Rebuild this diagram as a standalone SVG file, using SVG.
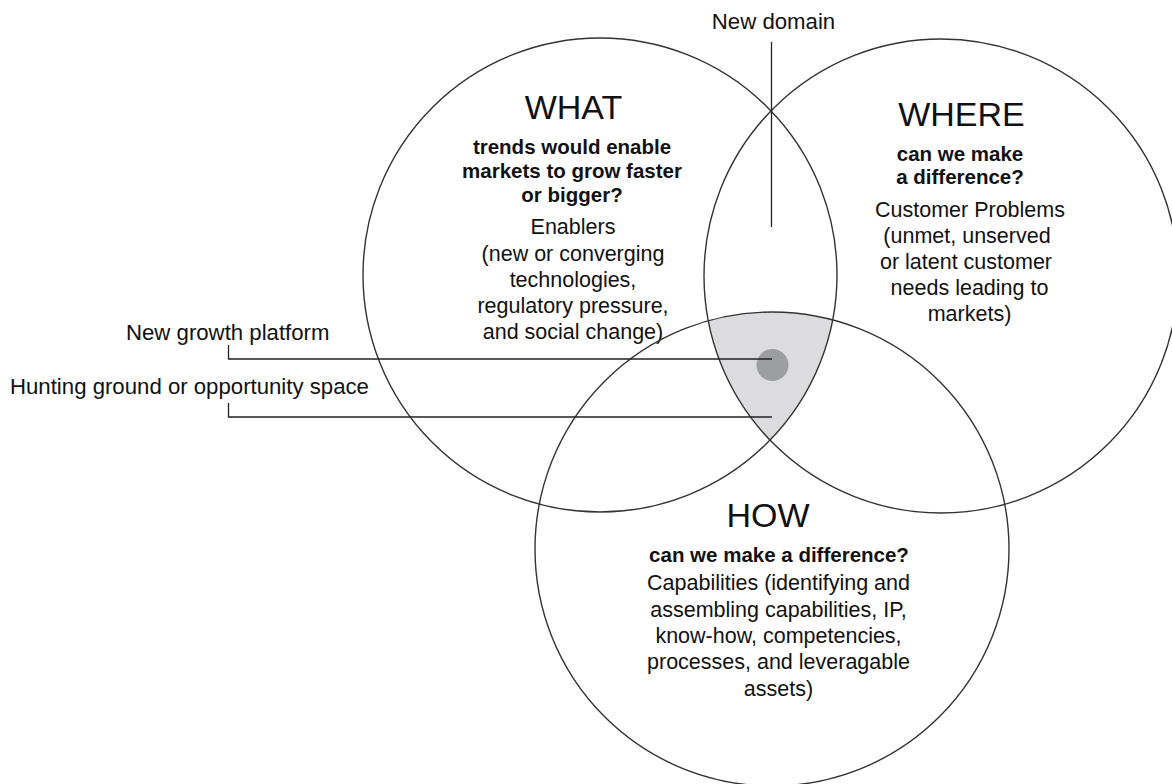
<svg xmlns="http://www.w3.org/2000/svg" width="1172" height="784" viewBox="0 0 1172 784">
<style>
.circle{fill:none;stroke:#333;stroke-width:1.4}
.title{font-family:"Liberation Sans",Arial,sans-serif;font-size:34px;fill:#111;text-anchor:middle}
.bold{font-family:"Liberation Sans",Arial,sans-serif;font-size:20.5px;font-weight:bold;fill:#111;text-anchor:middle}
.body{font-family:"Liberation Sans",Arial,sans-serif;font-size:21.5px;fill:#111;text-anchor:middle}
.label{font-family:"Liberation Sans",Arial,sans-serif;font-size:22.2px;fill:#111}
.conn{fill:none;stroke:#222;stroke-width:1.3}
</style>
<rect width="1172" height="784" fill="#fff"/>
<g id="core">
<path d="M708.3,320.8 A237,237 0 0 1 832.7,319.9 A237,237 0 0 1 770,440.1 A237,237 0 0 1 708.3,320.8 Z" fill="#dcdcde"/>
<circle cx="772.5" cy="365" r="16" fill="#9d9ea0"/>
</g>
<g id="what">
<circle class="circle" cx="600" cy="275" r="237"/>
<text class="title" x="573.5" y="119">WHAT</text>
<text class="bold" x="572" y="154">trends would enable</text>
<text class="bold" x="572" y="178">markets to grow faster</text>
<text class="bold" x="572" y="201.5">or bigger?</text>
<text class="body" x="573" y="234">Enablers</text>
<text class="body" x="573" y="260.5">(new or converging</text>
<text class="body" x="573" y="287">technologies,</text>
<text class="body" x="573" y="313">regulatory pressure,</text>
<text class="body" x="573" y="339">and social change)</text>
</g>
<g id="where">
<circle class="circle" cx="941" cy="276" r="237"/>
<text class="title" x="961.5" y="126">WHERE</text>
<text class="bold" x="960" y="160.5">can we make</text>
<text class="bold" x="960" y="183.5">a difference?</text>
<text class="body" x="970" y="216.5">Customer Problems</text>
<text class="body" x="967" y="243">(unmet, unserved</text>
<text class="body" x="966" y="269">or latent customer</text>
<text class="body" x="969.5" y="295">needs leading to</text>
<text class="body" x="969.5" y="320.5">markets)</text>
</g>
<g id="how">
<circle class="circle" cx="772" cy="549" r="237"/>
<text class="title" x="768" y="527">HOW</text>
<text class="bold" x="779" y="562">can we make a difference?</text>
<text class="body" x="778.5" y="590">Capabilities (identifying and</text>
<text class="body" x="778.5" y="616.5">assembling capabilities, IP,</text>
<text class="body" x="778.5" y="642.5">know-how, competencies,</text>
<text class="body" x="778.5" y="669">processes, and leveragable</text>
<text class="body" x="778.5" y="695.5">assets)</text>
</g>
<g id="labels">
<text class="label" x="773.5" y="28.5" text-anchor="middle">New domain</text>
<text class="label" x="126" y="339.5">New growth platform</text>
<text class="label" x="10" y="393.5">Hunting ground or opportunity space</text>
</g>
<g id="connectors">
<path class="conn" d="M771.5,42 V227"/>
<path class="conn" d="M228.5,345 V359 H772"/>
<path class="conn" d="M228.5,403 V417 H772"/>
</g>
</svg>
